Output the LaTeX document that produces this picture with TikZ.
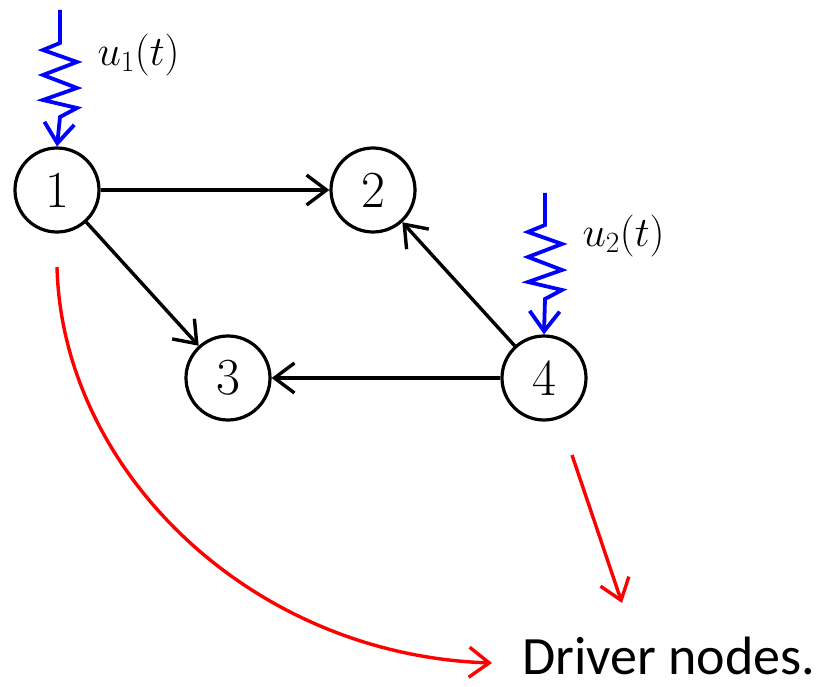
\RequirePackage{fix-cm}
\documentclass[tikz,border=0pt]{standalone}
\usepackage{fontspec}
\newfontfamily\carlito{Carlito}
\usetikzlibrary{arrows.meta}
\begin{document}
\begin{tikzpicture}[x=1pt,y=-1pt,
  vert/.style={circle,draw,line width=3.2pt,minimum size=84pt,inner sep=0pt,font=\fontsize{52}{52}\selectfont},
  edge/.style={line width=3.4pt,-{Straight Barb[length=20pt,width=30pt,line width=3.4pt]}},
  inp/.style={blue,line width=3.8pt,line join=miter,-{Straight Barb[length=20pt,width=30pt,line width=3.8pt]}},
  drv/.style={red,line width=3.4pt,-{Straight Barb[length=20pt,width=30pt,line width=3.4pt]}},
  lab/.style={font=\fontsize{42}{42}\selectfont}]
\useasboundingbox (0,0) rectangle (831,687);
\node[vert] (n1) at (57,190) {1};
\node[vert] (n2) at (373,190) {2};
\node[vert] (n3) at (228,378) {3};
\node[vert] (n4) at (544,378) {4};
\draw[edge] (n1) -- (n2);
\draw[edge] (n1) -- (n3);
\draw[edge] (n4) -- (n2);
\draw[edge] (n4) -- (n3);
\coordinate (s1) at (60,10);
\coordinate (s2) at (545,193);
\draw[inp] (s1) -- ++(0,33) -- ++(-17,7) -- ++(34,12) -- ++(-34,13) -- ++(34,13) -- ++(-34,12) -- ++(34,8) -- ++(-17,9) -- (n1.north);
\draw[inp] (s2) -- ++(0,32) -- ++(-17,7) -- ++(34,12) -- ++(-34,13) -- ++(34,13) -- ++(-34,12) -- ++(34,8) -- ++(-17,9) -- (n4.north);
\node[lab,anchor=west] (l1) at (94,55) {$u_1(t)$};
\node[lab,anchor=west] (l2) at (579,236) {$u_2(t)$};
\node[anchor=base west,font=\carlito\fontsize{54}{54}\selectfont,inner sep=0pt,text depth=0pt] (dn) at (522,674) {Driver nodes.};
\coordinate (r1) at (57,267);
\coordinate (r1e) at (492,663);
\coordinate (r2) at (572,455);
\coordinate (r2e) at (622,603);
\draw[drv] (r1) .. controls (62,470) and (250,655) .. (r1e);
\draw[drv] (r2) -- (r2e);
\end{tikzpicture}
\end{document}
